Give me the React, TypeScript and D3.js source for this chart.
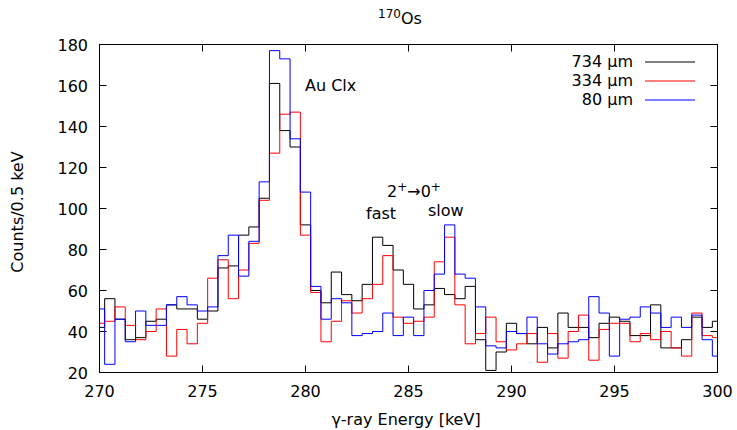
import * as d3 from 'd3';
import React from "react";

const WIDTH = 737;
const HEIGHT = 430;
const FONT = "DejaVu Sans";

// channel centres, 0.5 keV apart
const energies = d3.range(61).map((i) => 270 + i * 0.5);

const counts734 = [42, 56, 46, 36, 37, 45, 46, 53, 51, 51, 46, 50, 71, 72, 87, 91, 105, 161, 138, 130,
    92, 60, 54, 69, 58, 55, 63, 86, 82, 70, 63, 51, 53, 61, 58, 56, 62, 36, 21, 30,
    44, 39, 34, 42, 32, 49, 42, 42, 37, 44, 47, 45, 38, 38, 53, 32, 32, 36, 47, 42, 45];
const counts334 = [44, 45, 52, 43, 36, 40, 51, 28, 41, 34, 44, 66, 75, 56, 70, 83, 104, 127, 146, 147,
    87, 59, 35, 45, 55, 49, 56, 63, 77, 47, 44, 45, 47, 74, 86, 53, 34, 39, 47, 35,
    31, 34, 39, 25, 39, 27, 40, 48, 26, 41, 44, 44, 35, 39, 36, 40, 32, 28, 49, 38, 37];
const counts80 = [51, 24, 46, 35, 50, 43, 43, 53, 57, 53, 50, 52, 77, 87, 67, 84, 113, 177, 173, 134,
    108, 62, 46, 56, 54, 38, 39, 40, 49, 38, 47, 38, 60, 68, 92, 68, 66, 52, 33, 32,
    40, 39, 47, 34, 29, 34, 35, 36, 57, 49, 28, 46, 47, 52, 49, 42, 47, 42, 48, 36, 28];

const seriesNames = ["734 µm", "334 µm", "80 µm"];
const seriesColors = ["#000000", "#ff0000", "#0000ff"];
const xTicks = [270, 275, 280, 285, 290, 295, 300];
const yTicks = [20, 40, 60, 80, 100, 120, 140, 160, 180];

const x = d3.scaleLinear().domain([270, 300]).range([99.5, 717.5]);
const y = d3.scaleLinear().domain([20, 180]).range([372.5, 44.5]);

const stepLine = d3.line<number>()
    .x((d, i) => x(energies[i]))
    .y((d) => y(d))
    .curve(d3.curveStep);

export default function App() {
    const series = [counts734, counts334, counts80];
    const [x0, x1] = x.range();
    const [y0, y1] = y.range();
    const TICK = 7;

    return (
        <svg width={WIDTH} height={HEIGHT} style={{position: "absolute", left: 0, top: 0, background: "#fff"}}
             fontFamily={FONT}>
            {/* title */}
            <text x={400} y={24} fontSize={16} textAnchor="middle">
                <tspan fontSize={12} dy={-6}>170</tspan>
                <tspan dy={6}>Os</tspan>
            </text>

            {/* ticks, mirrored on all sides */}
            <g stroke="#000" strokeWidth={1}>
                {xTicks.map((t) => (
                    <g key={"x" + t}>
                        <line x1={x(t)} x2={x(t)} y1={y0} y2={y0 - TICK}/>
                        <line x1={x(t)} x2={x(t)} y1={y1} y2={y1 + TICK}/>
                    </g>
                ))}
                {yTicks.map((t) => (
                    <g key={"y" + t}>
                        <line x1={x0} x2={x0 + TICK} y1={y(t)} y2={y(t)}/>
                        <line x1={x1} x2={x1 - TICK} y1={y(t)} y2={y(t)}/>
                    </g>
                ))}
            </g>
            {xTicks.map((t) => (
                <text key={"xl" + t} x={x(t)} y={397} fontSize={16} textAnchor="middle">{t}</text>
            ))}
            {yTicks.map((t) => (
                <text key={"yl" + t} x={88} y={y(t) + 6} fontSize={16} textAnchor="end">{t}</text>
            ))}

            {/* histograms */}
            <g fill="none" strokeWidth={1}>
                {series.map((s, k) => (
                    <path key={k} d={stepLine(s) || ""} stroke={seriesColors[k]}/>
                ))}
            </g>

            {/* border */}
            <rect x={x0} y={y1} width={x1 - x0} height={y0 - y1} fill="none" stroke="#000" strokeWidth={1}/>

            {/* annotations */}
            <text x={305} y={91} fontSize={16}>Au Clx</text>
            <text x={387} y={197} fontSize={16}>
                2<tspan fontSize={12} dy={-6}>+</tspan><tspan dy={6}>→0</tspan><tspan fontSize={12} dy={-6}>+</tspan>
            </text>
            <text x={366} y={219} fontSize={16}>fast</text>
            <text x={428} y={216} fontSize={16}>slow</text>

            {/* legend */}
            {seriesNames.map((name, k) => (
                <g key={name}>
                    <text x={633} y={67 + k * 19} fontSize={16} textAnchor="end">{name}</text>
                    <line x1={645} x2={695} y1={62 + k * 19} y2={62 + k * 19} stroke={seriesColors[k]}/>
                </g>
            ))}

            {/* axis labels */}
            <text x={406} y={425} fontSize={16} textAnchor="middle">γ-ray Energy [keV]</text>
            <text transform="translate(23,212) rotate(-90)" fontSize={16} textAnchor="middle">Counts/0.5 keV</text>
        </svg>
    );
}
